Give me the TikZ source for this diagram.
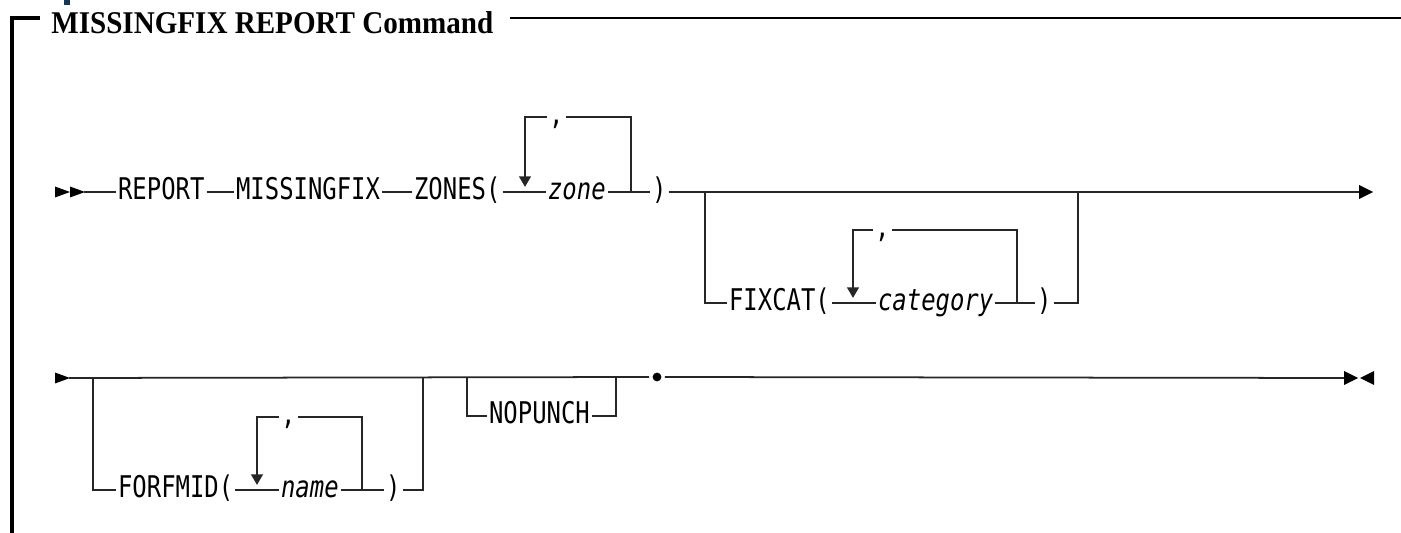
\documentclass[tikz,border=0pt]{standalone}
\usepackage{fontspec}
\usetikzlibrary{arrows.meta}
\newfontfamily\rrfont[FakeStretch=0.80]{DejaVu Sans Mono}
\newfontfamily\titlefont[FakeStretch=0.92]{Liberation Serif}

\tikzset{
  kw/.style={font={\rrfont\fontsize{17pt}{20pt}\selectfont}, inner xsep=1pt, inner ysep=0pt,
    text height=12.5pt, text depth=3.4pt, anchor=west},
  var/.style={kw, font={\rrfont\itshape\fontsize{17pt}{20pt}\selectfont}},
  rail/.style={line width=1pt, black!85},
  branch/.style={line width=1.4pt, black!85},
  repeat/.style={branch, -{Triangle[width=6.5pt,length=6pt]}},
  tri/.pic={\fill (0,-5.5) -- (15,0) -- (0,5.5) -- cycle;},
  bigtri/.pic={\fill (0,-7) -- (14,0) -- (0,7) -- cycle;},
  bigtril/.pic={\fill (0,0) -- (14,-7) -- (14,7) -- cycle;}
}

\begin{document}
\begin{tikzpicture}[x=0.02cm, y=-0.02cm]
  \useasboundingbox (0,0) rectangle (1401,533);

  % Frame and title
  \fill[fill={rgb,255:red,26;green,52;blue,86}] (64,0) rectangle (70,5);
  \draw[line width=2pt] (12,533) -- (12,18) -- (40,18);
  \node[font={\titlefont\bfseries\fontsize{18pt}{21pt}\selectfont}, inner sep=0pt, anchor=base west]
    (title) at (51,34) {MISSINGFIX REPORT Command};
  \draw[line width=0.7pt] (510,18) -- (1401,18);

  % First line
  \node[kw] (report) at (116,192) {REPORT};
  \node[kw] (missing) at (234,192) {MISSINGFIX};
  \node[kw] (zones) at (412,192) {ZONES(};
  \node[var] (zone) at (546,192) {zone};
  \node[kw] (zcomma) at (547,117) {,};
  \node[kw] (zrp) at (650,192) {)};
  \coordinate (s1) at (84,192);
  \coordinate (e1) at (1359,192);
  \coordinate (zl) at (525,187);
  \coordinate (zr) at (631,192);
  \coordinate (j1) at (705,192);
  \coordinate (j2) at (1078,192);

  \node[kw] (fixcat) at (727,303) {FIXCAT(};
  \node[var] (category) at (876,303) {category};
  \node[kw] (ccomma) at (873,230) {,};
  \node[kw] (crp) at (1035,303) {)};
  \coordinate (cl) at (853,298);
  \coordinate (cr) at (1017,303);

  \pic at (55,192) {tri};
  \pic at (70,192) {tri};
  \draw[rail] (s1) -- (report.west);
  \draw[rail] (report.east) -- (missing.west);
  \draw[rail] (missing.east) -- (zones.west);
  \draw[rail] (zones.east) -- (zone.west);
  \draw[repeat] (zcomma.west) -| (zl);
  \draw[branch] (zr) |- (zcomma.east);
  \draw[rail] (zone.east) -- (zrp.west);
  \draw[rail] (zrp.east) -- (e1);
  \pic at (e1) {bigtri};

  \draw[branch] (j1) |- (fixcat.west);
  \draw[rail] (fixcat.east) -- (category.west);
  \draw[repeat] (ccomma.west) -| (cl);
  \draw[branch] (cr) |- (ccomma.east);
  \draw[rail] (category.east) -- (crp.west);
  \draw[branch] (crp.east) -| (j2);

  % Second line
  \node[kw] (forfmid) at (116,490) {FORFMID(};
  \node[var] (name) at (279,490) {name};
  \node[kw] (fcomma) at (279,417) {,};
  \node[kw] (frp) at (384,490) {)};
  \node[kw] (nopunch) at (487,416) {NOPUNCH};
  \node[circle, fill=black, inner sep=0pt, minimum size=5pt, outer sep=2pt] (dot) at (657,377) {};
  \coordinate (s2) at (69,378);
  \coordinate (e2) at (1344,378);
  \coordinate (k1) at (93,378);
  \coordinate (k2) at (423,378);
  \coordinate (fl) at (257,485);
  \coordinate (fr) at (362,490);
  \coordinate (m1) at (467,378);
  \coordinate (m2) at (616,378);

  \pic at (55,378) {tri};
  \draw[rail] (s2) -- (dot.west);
  \draw[rail] (dot.east) -- (e2);
  \pic at (e2) {bigtri};
  \pic at (1360,378) {bigtril};

  \draw[branch] (k1) |- (forfmid.west);
  \draw[rail] (forfmid.east) -- (name.west);
  \draw[repeat] (fcomma.west) -| (fl);
  \draw[branch] (fr) |- (fcomma.east);
  \draw[rail] (name.east) -- (frp.west);
  \draw[branch] (frp.east) -| (k2);

  \draw[branch] (m1) |- (nopunch.west);
  \draw[branch] (nopunch.east) -| (m2);
\end{tikzpicture}
\end{document}
